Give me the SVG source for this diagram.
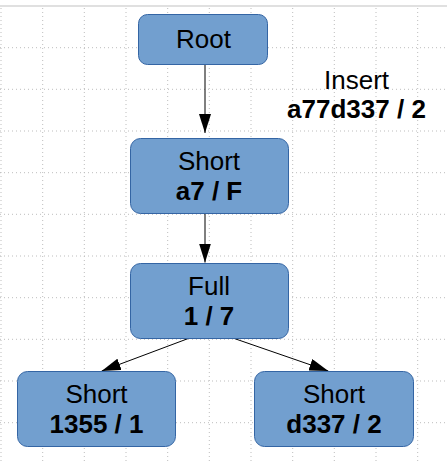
<svg xmlns="http://www.w3.org/2000/svg" width="447" height="461" viewBox="0 0 447 461">
<defs>
<style>
.grid{stroke:#bdbdbd;stroke-width:1;stroke-dasharray:1 3;fill:none}
.node rect{fill:#729fcf;stroke:#3465a4;stroke-width:1}
text{font-family:"Liberation Sans",Arial,sans-serif;font-size:26px;fill:#000;text-anchor:middle}
.b{font-weight:bold}
.edge{stroke:#000;stroke-width:1;fill:none}
</style>
<marker id="ah" markerUnits="userSpaceOnUse" markerWidth="20" markerHeight="12" refX="19" refY="6" orient="auto">
<path d="M0,0 L19,6 L0,12 Z" fill="#000"/>
</marker>
</defs>
<rect width="447" height="461" fill="#fff"/>
<g id="grid">
<path class="grid" d="M1,8V461 M42.7,8V461 M84.3,8V461 M126,8V461 M167.7,8V461 M209.3,8V461 M251,8V461 M292.7,8V461 M334.3,8V461 M376,8V461 M417.7,8V461"/>
<path class="grid" d="M0,47.7H447 M0,89.3H447 M0,131H447 M0,172.7H447 M0,214.3H447 M0,256H447 M0,297.7H447 M0,339.3H447 M0,381H447 M0,422.7H447"/>
<line x1="0" y1="6" x2="447" y2="6" stroke="#e0e0e0" stroke-width="2"/>
</g>
<g id="connectors">
<line class="edge" x1="205" y1="64.5" x2="205" y2="133" marker-end="url(#ah)"/>
<line class="edge" x1="205" y1="213.5" x2="205" y2="262.5" marker-end="url(#ah)"/>
<line class="edge" x1="188.3" y1="338.5" x2="101.7" y2="371" marker-end="url(#ah)"/>
<line class="edge" x1="234.3" y1="338.5" x2="328.3" y2="371" marker-end="url(#ah)"/>
</g>
<g id="root" class="node">
<rect x="138.5" y="14.5" width="129" height="50" rx="9"/>
<text x="203.5" y="48">Root</text>
</g>
<g id="short-a7" class="node">
<rect x="130.5" y="138.5" width="158" height="75" rx="10"/>
<text x="209" y="170">Short</text>
<text class="b" x="209" y="200">a7 / F</text>
</g>
<g id="full" class="node">
<rect x="130.5" y="263.5" width="158" height="75" rx="10"/>
<text x="209" y="295">Full</text>
<text class="b" x="209" y="325">1 / 7</text>
</g>
<g id="short-1355" class="node">
<rect x="17.5" y="371.5" width="158" height="75" rx="10"/>
<text x="96.5" y="402.5">Short</text>
<text class="b" x="96.5" y="432.5">1355 / 1</text>
</g>
<g id="short-d337" class="node">
<rect x="254.5" y="371.5" width="159" height="75" rx="10"/>
<text x="334" y="402.5">Short</text>
<text class="b" x="334" y="432.5">d337 / 2</text>
</g>
<g id="insert-label">
<text x="356.5" y="89">Insert</text>
<text class="b" x="356.5" y="118">a77d337 / 2</text>
</g>
</svg>
